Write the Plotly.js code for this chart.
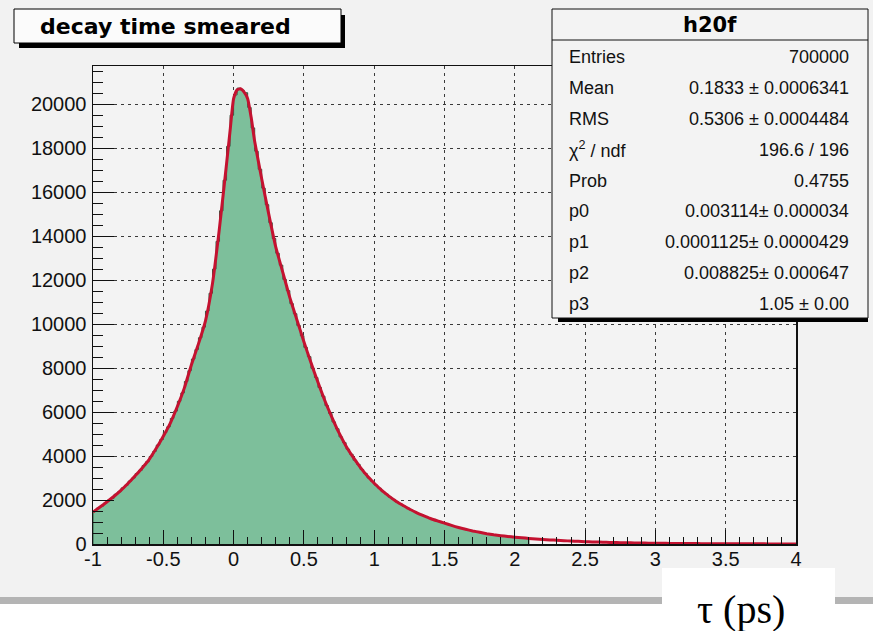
<!DOCTYPE html>
<html>
<head>
<meta charset="utf-8">
<script src="https://cdn.plot.ly/plotly-3.0.1.min.js"></script>
<style>
  html, body { margin: 0; padding: 0; background: #ffffff; }
  #chart { width: 873px; height: 631px; }
</style>
</head>
<body>
<div id="chart"></div>
<script>
// Histogram: 124 bins of width 0.025 starting at -1
const binStart = -1;
const binWidth = 0.025;
const counts = [
  1500, 1630, 1720, 1860, 1990, 2080, 2260, 2370, 2550, 2670,
  2860, 3000, 3200, 3350, 3570, 3740, 3980, 4210, 4500, 4750,
  5070, 5330, 5710, 6040, 6490, 6870, 7390, 7880, 8410, 8840,
  9380, 9860, 10590, 11400, 12500, 13760, 15150, 16540, 18080, 19500,
  20420, 20730, 20640, 20520, 19850, 18920, 17860, 17040, 16180, 15430,
  14610, 13890, 13220, 12680, 12030, 11520, 10930, 10470, 9930, 9470,
  8940, 8520, 7990, 7570, 7120, 6720, 6290, 5940, 5550, 5240,
  4870, 4610, 4310, 4080, 3810, 3620, 3390, 3210, 3000, 2850,
  2680, 2540, 2380, 2270, 2130, 2030, 1910, 1820, 1720, 1640,
  1540, 1480, 1390, 1330, 1250, 1200, 1130, 1085, 1015, 975,
  915, 875, 815, 775, 725, 695, 645, 615, 575, 550,
  505, 490, 450, 435, 405, 392, 365, 355, 330, 322,
  300, 292, 270, 265
];

// Fitted function
const fitX = [
  -1.00, -0.95, -0.90, -0.85, -0.80, -0.75, -0.70, -0.65, -0.60, -0.55,
  -0.50, -0.45, -0.40, -0.35, -0.30, -0.25, -0.20, -0.15, -0.10, -0.05,
  -0.025, 0.00, 0.025, 0.05, 0.075, 0.10, 0.125, 0.15,
  0.20, 0.25, 0.30, 0.35, 0.40, 0.45, 0.50, 0.55, 0.60, 0.65,
  0.70, 0.75, 0.80, 0.85, 0.90, 0.95, 1.00, 1.05, 1.10, 1.15,
  1.20, 1.25, 1.30, 1.35, 1.40, 1.45, 1.50, 1.55, 1.60, 1.65,
  1.70, 1.75, 1.80, 1.85, 1.90, 1.95, 2.00, 2.05, 2.10,
  2.15, 2.20, 2.25, 2.30, 2.35, 2.40, 2.45, 2.50, 2.55, 2.60,
  2.65, 2.70, 2.75, 2.80, 2.85, 2.90, 2.95, 3.00, 3.05, 3.10,
  3.15, 3.20, 3.25, 3.30, 3.35, 3.40, 3.45, 3.50, 3.55, 3.60,
  3.65, 3.70, 3.75, 3.80, 3.85, 3.90, 3.95, 4.00
];
const fitY = [
  1450, 1680, 1920, 2170, 2450, 2760, 3100, 3460, 3850, 4350,
  4900, 5500, 6250, 7100, 8150, 9100, 10150, 11850, 14400, 17300,
  18800, 20250, 20650, 20700, 20550, 20250, 19400, 18300,
  16600, 15000, 13500, 12350, 11200, 10200, 9200, 8250, 7350, 6500,
  5750, 5050, 4450, 3950, 3500, 3100, 2760, 2460, 2200, 1970,
  1770, 1590, 1430, 1290, 1160, 1050, 950, 845, 750, 670,
  595, 530, 470, 420, 380, 345, 312, 282, 255,
  230, 207, 186, 167, 150, 134, 120, 107, 96, 86,
  77, 69, 62, 55, 49, 44, 39, 35, 31, 28,
  25, 22, 20, 18, 16, 14, 12.5, 11, 10, 9,
  8, 7, 6.3, 5.6, 5, 4.4, 3.9, 3.5
];

// Axis ticks
const xTickVals = [-1, -0.5, 0, 0.5, 1, 1.5, 2, 2.5, 3, 3.5, 4];
const xTickText = ['-1', '-0.5', '0', '0.5', '1', '1.5', '2', '2.5', '3', '3.5', '4'];
const yTickVals = [0, 2000, 4000, 6000, 8000, 10000, 12000, 14000, 16000, 18000, 20000];
const yTickText = ['0', '2000', '4000', '6000', '8000', '10000', '12000', '14000', '16000', '18000', '20000'];

// Statistics box
const statTitle = 'h20f';
const statLabels = ['Entries', 'Mean', 'RMS', '\u03c7<sup>2</sup> / ndf', 'Prob', 'p0', 'p1', 'p2', 'p3'];
const statValues = ['700000', '0.1833 \u00b1 0.0006341', '0.5306 \u00b1 0.0004484', '196.6 / 196', '0.4755',
                    '0.003114\u00b1 0.000034', '0.0001125\u00b1 0.0000429', '0.008825\u00b1 0.000647', '1.05 \u00b1 0.00'];

const histTitle = 'decay time smeared';
const xLabel = '\u03c4 (ps)';

// Build the stepped outline of the histogram
const stepX = [binStart];
const stepY = [0];
counts.forEach(function (c, i) {
  const lo = binStart + i * binWidth;
  const hi = lo + binWidth;
  stepX.push(lo, hi);
  stepY.push(c, c);
});
stepX.push(binStart + counts.length * binWidth);
stepY.push(0);

// Frame geometry in pixels
const L = 93, T = 66, W = 703, H = 478;
const FW = 873, FH = 631;
function px(x) { return (x - L) / W; }
function py(y) { return (T + H - y) / H; }
function rect(x0, y0, x1, y1, fill, lineColor, lineWidth) {
  return {
    type: 'rect', xref: 'paper', yref: 'paper', layer: 'above',
    x0: px(x0), x1: px(x1), y0: py(y1), y1: py(y0),
    fillcolor: fill,
    line: { color: lineColor || fill, width: lineWidth === undefined ? 0 : lineWidth }
  };
}
function hline(x0, x1, y, color, width) {
  return {
    type: 'line', xref: 'paper', yref: 'paper', layer: 'above',
    x0: px(x0), x1: px(x1), y0: py(y), y1: py(y),
    line: { color: color, width: width }
  };
}

const shapes = [
  // canvas bottom: frame edge and white margin
  rect(0, 597, FW, 604, '#b4b4b4'),
  rect(0, 604, FW, FH, '#ffffff'),
  // axis label panel
  rect(662, 568, 835, FH, '#ffffff'),
  // title box with shadow
  rect(341, 15, 345, 48, '#000000'),
  rect(19, 43, 345, 48, '#000000'),
  rect(14, 9, 341, 43, '#fbfbfb', '#000000', 1),
  // statistics box with shadow
  rect(558, 318, 868, 322, '#000000'),
  rect(552, 9, 868, 318, '#f3f3f3', '#111111', 1),
  hline(552, 868, 40, '#111111', 1)
];

const annotations = [
  {
    xref: 'paper', yref: 'paper', x: px(38), y: py(26), xanchor: 'left', yanchor: 'middle',
    text: '<b>' + histTitle + '</b>', showarrow: false,
    font: { family: 'DejaVu Sans', size: 22, color: '#000000' }
  },
  {
    xref: 'paper', yref: 'paper', x: px(710), y: py(25), xanchor: 'center', yanchor: 'middle',
    text: '<b>' + statTitle + '</b>', showarrow: false,
    font: { family: 'DejaVu Sans', size: 21, color: '#000000' }
  },
  {
    xref: 'paper', yref: 'paper', x: px(741), y: py(609), xanchor: 'center', yanchor: 'middle',
    text: xLabel, showarrow: false,
    font: { family: 'Liberation Serif', size: 40, color: '#000000' }
  }
];
statLabels.forEach(function (lab, i) {
  const yc = 40 + 30.9 * (i + 0.5) + 1.5;
  annotations.push({
    xref: 'paper', yref: 'paper', x: px(567), y: py(yc), xanchor: 'left', yanchor: 'middle',
    text: lab, showarrow: false,
    font: { family: 'Liberation Sans', size: 18, color: '#111111' }
  });
  annotations.push({
    xref: 'paper', yref: 'paper', x: px(851), y: py(yc), xanchor: 'right', yanchor: 'middle',
    text: statValues[i], showarrow: false,
    font: { family: 'Liberation Sans', size: 18, color: '#111111' }
  });
});

const traces = [
  {
    type: 'scatter', mode: 'lines', x: stepX, y: stepY,
    fill: 'tozeroy', fillcolor: '#7dbf9b',
    line: { color: '#2c5a40', width: 1 },
    hoverinfo: 'skip'
  },
  {
    type: 'scatter', mode: 'lines', x: fitX, y: fitY,
    line: { color: '#c41230', width: 3, shape: 'spline', smoothing: 0.5 },
    hoverinfo: 'skip'
  }
];

const axisCommon = {
  showline: true, linecolor: '#111111', linewidth: 1.5, mirror: true,
  ticks: 'inside', tickcolor: '#111111', tickwidth: 1,
  showgrid: true, gridcolor: '#3a3a3a', gridwidth: 1, griddash: '3px,4px',
  zeroline: false,
  tickfont: { family: 'Liberation Sans', size: 20, color: '#111111' },
  tickmode: 'array'
};

const layout = {
  width: FW, height: FH,
  margin: { l: L, r: FW - L - W, t: T, b: FH - T - H, pad: 0 },
  paper_bgcolor: '#f2f2f2',
  plot_bgcolor: '#f3f3f3',
  showlegend: false,
  xaxis: Object.assign({}, axisCommon, {
    range: [-1, 4], tickvals: xTickVals, ticktext: xTickText,
    ticklen: 14, ticklabelstandoff: -4,
    minor: { tickmode: 'linear', tick0: -1, dtick: 0.1, ticks: 'inside', ticklen: 7, tickcolor: '#111111', tickwidth: 1, showgrid: false }
  }),
  yaxis: Object.assign({}, axisCommon, {
    range: [0, 21735], tickvals: yTickVals, ticktext: yTickText,
    ticklen: 21, ticklabelstandoff: 1,
    minor: { tickmode: 'linear', tick0: 0, dtick: 500, ticks: 'inside', ticklen: 10, tickcolor: '#111111', tickwidth: 1, showgrid: false }
  }),
  shapes: shapes,
  annotations: annotations
};

Plotly.newPlot('chart', traces, layout, { staticPlot: true, displayModeBar: false });
</script>
</body>
</html>
